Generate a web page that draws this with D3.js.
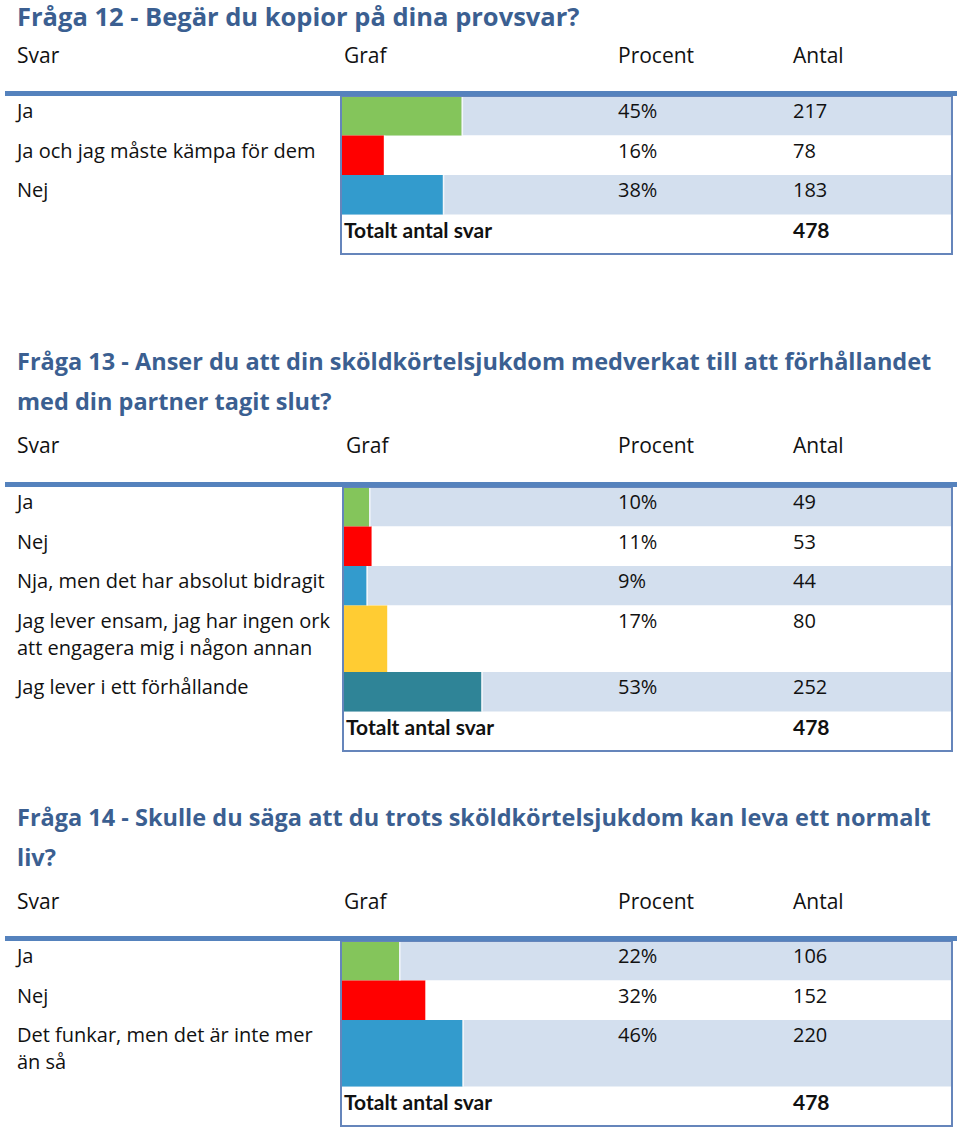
<!DOCTYPE html>
<html><head><meta charset="utf-8">
<script src="https://cdn.jsdelivr.net/npm/d3@7"></script>
<style>
html,body{margin:0;padding:0;background:#fff;}
svg{display:block;}
text{font-family:"Open Sans","Lato",sans-serif;fill:#111;}
text.tot{font-family:"Lato","Open Sans",sans-serif;}
</style></head>
<body>
<script>
// ---- data ----
const q12Title = ["Fråga 12 - Begär du kopior på dina provsvar?"];
const q12Labels = [["Ja"], ["Ja och jag måste kämpa för dem"], ["Nej"]];
const q12Pct = [45, 16, 38];
const q12Count = [217, 78, 183];
const q12Total = 478;

const q13Title = ["Fråga 13 - Anser du att din sköldkörtelsjukdom medverkat till att förhållandet", "med din partner tagit slut?"];
const q13Labels = [["Ja"], ["Nej"], ["Nja, men det har absolut bidragit"], ["Jag lever ensam, jag har ingen ork", "att engagera mig i någon annan"], ["Jag lever i ett förhållande"]];
const q13Pct = [10, 11, 9, 17, 53];
const q13Count = [49, 53, 44, 80, 252];
const q13Total = 478;

const q14Title = ["Fråga 14 - Skulle du säga att du trots sköldkörtelsjukdom kan leva ett normalt", "liv?"];
const q14Labels = [["Ja"], ["Nej"], ["Det funkar, men det är inte mer", "än så"]];
const q14Pct = [22, 32, 46];
const q14Count = [106, 152, 220];
const q14Total = 478;

const headers = ["Svar", "Graf", "Procent", "Antal"];
const totalLabel = "Totalt antal svar";
const barColors3 = ["#84c55b", "#ff0000", "#339bcd"];
const barColors5 = ["#84c55b", "#ff0000", "#339bcd", "#ffcc33", "#2f8497"];

// ---- drawing ----
const W = 960, H = 1136;
const svg = d3.select("body").append("svg").attr("width", W).attr("height", H);

const titleColor = "#3b5f91";
const lineColor = "#5582bd";
const stripe = "#d3dfee";
const borderColor = "#6585bb";

function drawTable(cfg) {
  const g = svg.append("g");
  // title
  cfg.title.forEach((t, i) => {
    g.append("text").attr("x", 17).attr("y", cfg.titleY + i * 40)
      .attr("font-size", cfg.titleSize).attr("font-weight", "bold")
      .style("fill", titleColor).text(t);
  });
  // headers
  const colX = [17, cfg.boxX + 3, 618, 793];
  headers.forEach((h, i) => {
    g.append("text").attr("x", colX[i]).attr("y", cfg.headerY).attr("font-size", 21).text(h);
  });
  // rows
  const rowH = cfg.labels.map(l => 39.5 + (l.length - 1) * 27);
  const tops = [];
  let y = cfg.rowsTop;
  rowH.forEach(h => { tops.push(y); y += h; });
  const totalTop = y, totalH = 39.5;
  const boxRight = 952;
  const x = d3.scaleLinear().domain([0, 100]).range([cfg.boxX, cfg.boxX + cfg.graphW]);

  // stripes
  g.selectAll(".stripe").data(cfg.pct).join("rect")
    .attr("x", cfg.boxX).attr("y", (d, i) => tops[i])
    .attr("width", boxRight - cfg.boxX).attr("height", (d, i) => rowH[i])
    .attr("fill", (d, i) => i % 2 === 0 ? stripe : "#ffffff");
  // bars
  g.selectAll(".bar").data(cfg.pct).join("rect")
    .attr("x", x(0)).attr("y", (d, i) => tops[i])
    .attr("width", d => x(d) - x(0)).attr("height", (d, i) => rowH[i])
    .attr("fill", (d, i) => cfg.colors[i]);
  // white gap after bar
  g.selectAll(".gap").data(cfg.pct).join("rect")
    .attr("x", d => x(d)).attr("y", (d, i) => tops[i])
    .attr("width", 1.5).attr("height", (d, i) => rowH[i])
    .attr("fill", "#fff").attr("opacity", 0.7);

  // labels
  cfg.labels.forEach((lines, i) => {
    lines.forEach((ln, j) => {
      g.append("text").attr("x", 17).attr("y", tops[i] + 22 + j * 27).attr("font-size", 20).text(ln);
    });
    g.append("text").attr("x", 618).attr("y", tops[i] + 22).attr("font-size", 20).text(cfg.pct[i] + "%");
    g.append("text").attr("x", 793).attr("y", tops[i] + 22).attr("font-size", 20).text(cfg.count[i]);
  });
  g.append("text").attr("class", "tot").attr("x", cfg.boxX + 3).attr("y", totalTop + 23).attr("font-size", 21)
    .attr("font-weight", "bold").text(totalLabel);
  g.append("text").attr("class", "tot").attr("x", 793).attr("y", totalTop + 23).attr("font-size", 21)
    .attr("font-weight", "bold").text(cfg.total);

  // box border
  g.append("rect").attr("x", cfg.boxX).attr("y", cfg.rowsTop)
    .attr("width", boxRight - cfg.boxX).attr("height", totalTop + totalH - cfg.rowsTop)
    .attr("fill", "none").attr("stroke", borderColor).attr("stroke-width", 2);
  // header line
  g.append("rect").attr("x", 5).attr("y", cfg.rowsTop - 5).attr("width", 952).attr("height", 5)
    .attr("fill", lineColor);
}

drawTable({title: q12Title, titleY: 26, titleSize: 25.5, headerY: 63, rowsTop: 96, boxX: 341, graphW: 268,
  labels: q12Labels, pct: q12Pct, count: q12Count, total: q12Total, colors: barColors3});
drawTable({title: q13Title, titleY: 370, titleSize: 23.5, headerY: 453, rowsTop: 487, boxX: 343, graphW: 261,
  labels: q13Labels, pct: q13Pct, count: q13Count, total: q13Total, colors: barColors5});
drawTable({title: q14Title, titleY: 826, titleSize: 23.5, headerY: 909, rowsTop: 941, boxX: 341, graphW: 264,
  labels: q14Labels, pct: q14Pct, count: q14Count, total: q14Total, colors: barColors3});
</script>
</body></html>
